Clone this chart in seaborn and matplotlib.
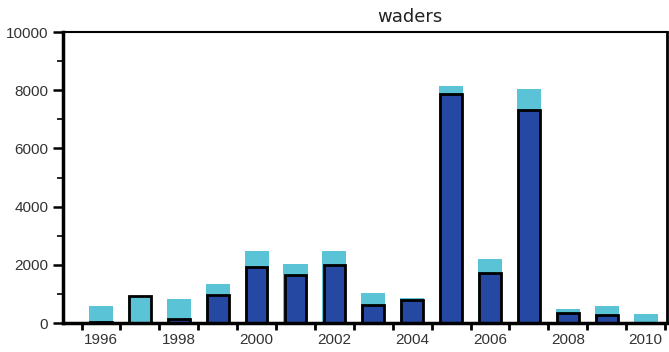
import numpy as np
import pandas as pd
import seaborn as sns
import matplotlib.pyplot as plt
from matplotlib.ticker import MultipleLocator

years = list(range(1996, 2011))
total = [580, 940, 820, 1330, 2470, 2030, 2470, 1020, 880, 8150, 2220, 8030, 500, 580, 330]
lower = [50, 940, 140, 960, 1940, 1650, 1990, 620, 790, 7860, 1710, 7320, 350, 275, 0]

dark = '#2549a2'
cyan = '#5bc3d6'

df = pd.DataFrame({'year': [str(y) for y in years], 'total': total, 'lower': lower})

sns.set_style('white')
plt.rcParams['font.family'] = ['Liberation Sans', 'DejaVu Sans']

fig = plt.figure(figsize=(6.69, 3.52), dpi=100)
ax = fig.add_axes([0.094, 0.082, 0.903, 0.827])

sns.barplot(data=df, x='year', y='total', color=cyan, saturation=1, width=0.62,
            linewidth=0, ax=ax)
sns.barplot(data=df, x='year', y='lower', color=dark, saturation=1, width=0.56,
            edgecolor='black', linewidth=2, ax=ax)

# 1997 is outlined but filled light
n = len(years)
ax.patches[n + 1].set_facecolor(cyan)

ax.set_ylim(0, 10000)
ax.set_xlim(-0.98, 14.55)
ax.set_yticks(range(0, 10001, 2000))
ax.set_yticklabels([str(v) for v in range(0, 10001, 2000)])
ax.yaxis.set_minor_locator(MultipleLocator(1000))

ax.set_xticks(range(0, n, 2))
ax.set_xticklabels([str(y) for y in years[::2]])
ax.set_xticks([i - 0.5 for i in range(n + 1)], minor=True)
ax.tick_params(axis='both', which='both', left=True, bottom=True, color='black')
ax.tick_params(axis='x', which='major', length=0, pad=7, labelsize=11, colors='#333333')
ax.tick_params(axis='x', which='minor', length=5, width=2)
ax.tick_params(axis='y', which='major', length=7, width=1.8, labelsize=11, colors='#333333')
ax.tick_params(axis='y', which='minor', length=4, width=1.2)
ax.tick_params(axis='both', which='both', color='black')

for s in ax.spines.values():
    s.set_visible(True)
    s.set_color('black')
ax.spines['left'].set_linewidth(2.5)
ax.spines['bottom'].set_linewidth(2.5)
ax.spines['top'].set_linewidth(1.5)
ax.spines['right'].set_linewidth(2)

ax.set_xlabel('')
ax.set_ylabel('')

fig.text(0.613, 0.952, 'waders', ha='center', va='center', fontsize=13,
         family='DejaVu Sans', color='#222222')

fig.savefig('out.png', dpi=100)
